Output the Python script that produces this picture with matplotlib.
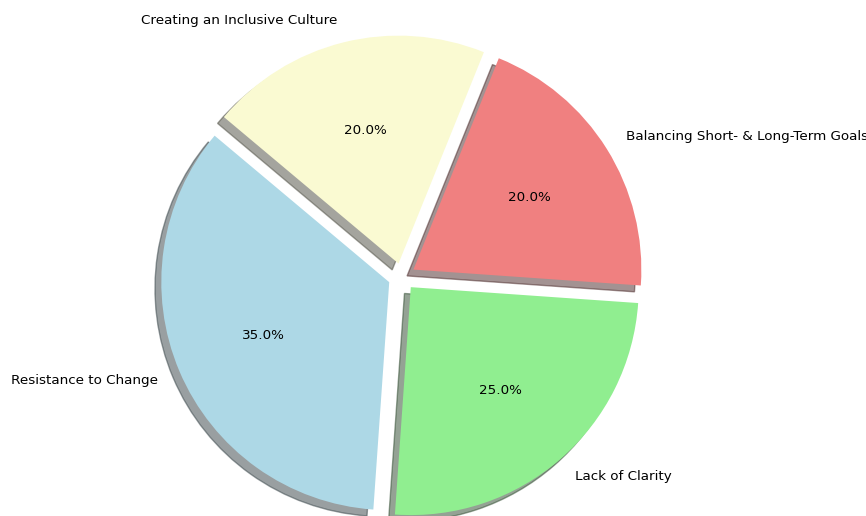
import matplotlib
matplotlib.use("Agg")
from matplotlib import pyplot as plt

labels = ['Resistance to Change', 'Lack of Clarity',
          'Balancing Short- & Long-Term Goals', 'Creating an Inclusive Culture']
sizes = [35, 25, 20, 20]
colors = ['lightblue', 'lightgreen', 'lightcoral', 'lightgoldenrodyellow']
explode = (0.06, 0.06, 0.06, 0.06)

fig = plt.figure(figsize=(8.66, 5.16), dpi=100)
ax = fig.add_axes([0.135, -0.089, 0.658, 1.105])

ax.pie(sizes, explode=explode, labels=labels, colors=colors,
       autopct='%1.1f%%', shadow=True, startangle=140,
       textprops={'fontsize': 9.7})
ax.set_aspect('equal')
ax.set_xlim(-1.25, 1.25)
ax.set_ylim(-1.25, 1.25)

fig.savefig('out.png', dpi=100)
